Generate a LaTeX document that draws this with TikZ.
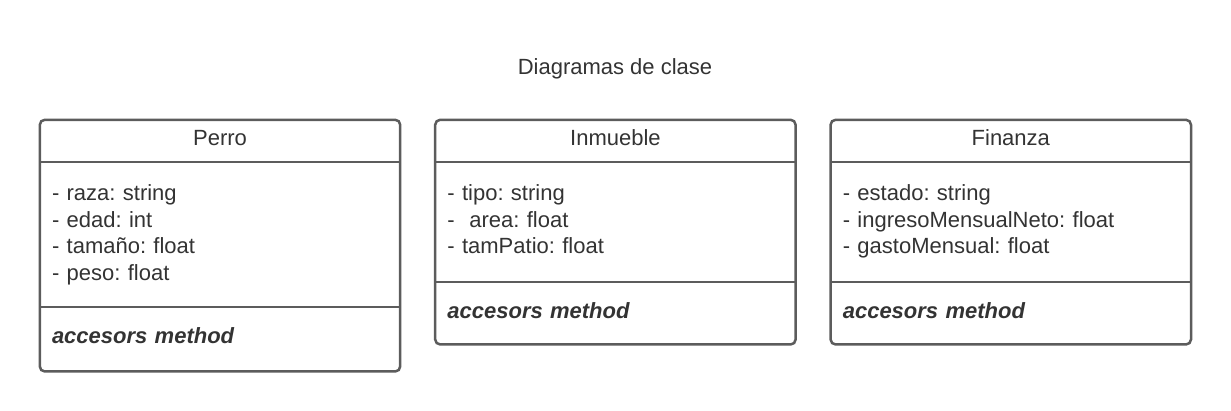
\documentclass[tikz,border=0pt]{standalone}
\usepackage{fontspec}
\setmainfont{Liberation Sans}
\usepackage{xcolor}
\usetikzlibrary{positioning}
\frenchspacing

\definecolor{bordeuml}{HTML}{5C5C5C}
\definecolor{textouml}{HTML}{333333}

\begin{document}
\begin{tikzpicture}[x=1pt, y=1pt, node distance=0pt]
    % Estilos de las clases
    \tikzset{
        titulo/.style  = {text=textouml, font=\fontsize{22}{26.7}\selectfont},
        nombre/.style  = {rectangle, text=textouml, minimum width=360pt, text height=26pt, text depth=16pt, inner sep=0pt, font=\fontsize{22}{26.7}\selectfont},
        atrib/.style   = {rectangle, text=textouml, text width=336pt, text height=38pt, inner xsep=12pt, inner ysep=0pt, align=left, font=\fontsize{22}{26.7}\selectfont},
        metodo/.style  = {rectangle, text=textouml, text width=336pt, text height=36pt, inner xsep=12pt, inner ysep=0pt, align=left, font=\fontsize{22}{26.7}\selectfont\bfseries\itshape},
        marco/.style   = {draw=bordeuml, line width=2.5pt, rounded corners=5pt},
        linea/.style   = {draw=bordeuml, line width=2.5pt}
    }
    \useasboundingbox (0,0) rectangle (1231,411);

    % Titulo
    \node [titulo, anchor=base] (titulo) at (615,336) {Diagramas de clase};

    % Clase Perro
    \node [nombre] (perro) at (220,270) {Perro};
    \node [atrib, below=of perro, text depth=106.5pt] (perroA) {- raza: string\\- edad: int\\- tamaño: float\\- peso: float};
    \node [metodo, below=of perroA, text depth=28pt] (perroM) {accesors method};

    % Clase Inmueble
    \node [nombre, right=35pt of perro] (inmueble) {Inmueble};
    \node [atrib, below=of inmueble, text depth=81.5pt] (inmuebleA) {- tipo: string\\-\ \ area: float\\- tamPatio: float};
    \node [metodo, below=of inmuebleA, text depth=26pt] (inmuebleM) {accesors method};

    % Clase Finanza
    \node [nombre, right=35pt of inmueble] (finanza) {Finanza};
    \node [atrib, below=of finanza, text depth=81.5pt] (finanzaA) {- estado: string\\- ingresoMensualNeto: float\\- gastoMensual: float};
    \node [metodo, below=of finanzaA, text depth=26pt] (finanzaM) {accesors method};

    % Marcos y separadores
    \foreach \c in {perro, inmueble, finanza} {
        \path [marco] (\c.north west) rectangle (\c M.south east);
        \path [linea] (\c A.north west) -- (\c A.north east);
        \path [linea] (\c M.north west) -- (\c M.north east);
    }
\end{tikzpicture}
\end{document}
